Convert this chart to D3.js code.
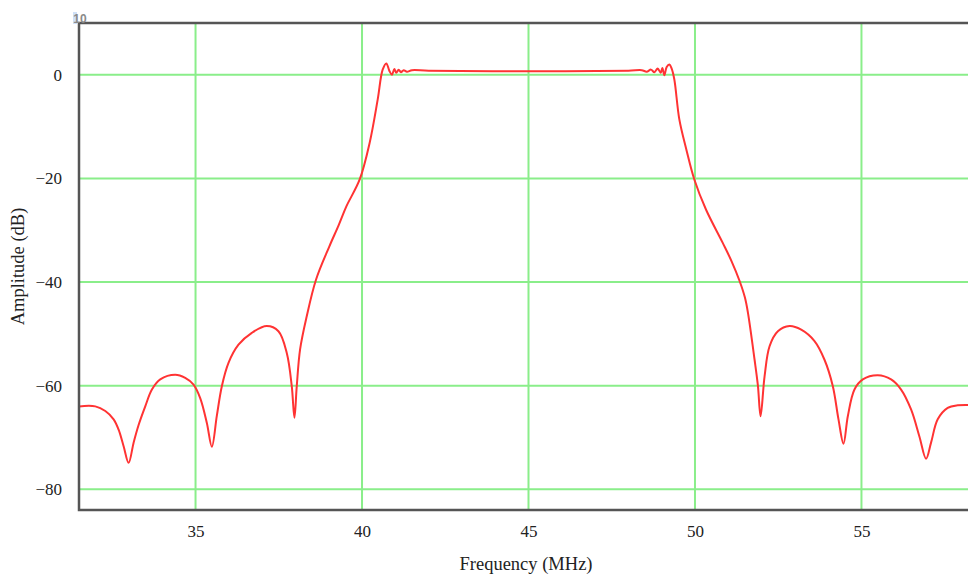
<!DOCTYPE html>
<html>
  <head>
    <meta charset="utf-8"/>
    <script src="https://cdn.jsdelivr.net/npm/d3@7"></script>
    <style>
      body { margin: 0; background: #fff; }
      text { font-family: "Liberation Serif", "Times New Roman", serif; fill: #222; }
      .tick text { font-size: 17px; }
      .title { font-size: 18.5px; }
    </style>
  </head>
  <body>
    <svg id="chart" width="968" height="575"></svg>
    <script>
    // frequency (MHz) and amplitude (dB)
    var freq = [31.5, 31.99, 32.29, 32.54, 32.69, 32.84, 32.99, 33.14, 33.29, 33.49, 33.69, 33.94, 34.39, 34.69, 34.94, 35.14, 35.34, 35.49, 35.64, 35.79, 35.99, 36.29, 36.69, 37.14, 37.49, 37.74, 37.89, 37.97, 38.04, 38.14, 38.34, 38.62, 39.02, 39.3, 39.53, 39.93, 40.23, 40.47, 40.62, 40.73, 40.82, 40.9, 40.97, 41.03, 41.1, 41.17, 41.25, 41.35, 41.5, 42.0, 45.0, 48.0, 48.4, 48.55, 48.68, 48.78, 48.88, 48.97, 49.02, 49.08, 49.15, 49.23, 49.3, 49.38, 49.53, 49.74, 49.98, 50.33, 50.83, 51.1, 51.34, 51.5, 51.59, 51.79, 51.89, 51.97, 52.09, 52.24, 52.49, 52.84, 53.19, 53.59, 53.89, 54.14, 54.31, 54.46, 54.59, 54.79, 55.04, 55.49, 55.89, 56.19, 56.49, 56.74, 56.94, 57.09, 57.29, 57.59, 57.89, 58.5];
    var amp = [-64.0, -64.0, -64.9, -66.5, -68.5, -71.7, -74.9, -71.0, -67.6, -64.0, -60.75, -58.8, -57.9, -58.5, -59.8, -62.4, -67.2, -71.8, -65.8, -60.1, -55.6, -52.1, -49.8, -48.5, -49.5, -53.7, -60.1, -66.2, -60.1, -53.0, -46.6, -39.5, -33.1, -29.0, -25.4, -20.2, -13.1, -4.8, 1.0, 2.2, 0.8, 0.0, 1.1, 0.4, 1.0, 0.5, 0.9, 0.6, 0.9, 0.8, 0.7, 0.8, 0.9, 0.6, 1.0, 0.5, 1.2, 0.4, 1.3, -0.1, 1.5, 2.0, 1.2, -0.9, -8.6, -14.4, -20.2, -26.0, -32.4, -36.0, -39.8, -43.0, -45.9, -55.0, -60.0, -65.9, -58.2, -52.4, -49.5, -48.5, -49.2, -51.4, -55.0, -60.1, -66.5, -71.2, -65.9, -60.75, -58.8, -58.0, -58.8, -60.75, -64.6, -69.8, -74.1, -71.0, -66.5, -64.3, -63.8, -63.8];

    var xTicks = [35, 40, 45, 50, 55];
    var yTicks = [0, -20, -40, -60, -80];
    var xDomain = [31.5, 58.5];
    var yDomain = [-84, 10];

    var plotL = 79, plotT = 23, plotR = 978, plotB = 510;

    var svg = d3.select("#chart");
    var x = d3.scaleLinear().domain(xDomain).range([plotL, plotR]);
    var y = d3.scaleLinear().domain(yDomain).range([plotB, plotT]);

    svg.append("defs").append("clipPath").attr("id", "plot")
        .append("rect")
        .attr("x", plotL).attr("y", plotT)
        .attr("width", plotR - plotL).attr("height", plotB - plotT);

    // grid
    var grid = svg.append("g").attr("clip-path", "url(#plot)");
    grid.selectAll(".vg").data(xTicks).enter().append("line")
        .attr("x1", function(d) { return x(d); })
        .attr("x2", function(d) { return x(d); })
        .attr("y1", plotT).attr("y2", plotB)
        .attr("stroke", "#8aee8a").attr("stroke-width", 2);
    grid.selectAll(".hg").data(yTicks).enter().append("line")
        .attr("x1", plotL).attr("x2", plotR)
        .attr("y1", function(d) { return y(d); })
        .attr("y2", function(d) { return y(d); })
        .attr("stroke", "#8aee8a").attr("stroke-width", 2);

    // curve
    var line = d3.line()
        .x(function(d, i) { return x(freq[i]); })
        .y(function(d, i) { return y(amp[i]); })
        .curve(d3.curveCatmullRom.alpha(0.5));
    svg.append("path")
        .datum(freq)
        .attr("clip-path", "url(#plot)")
        .attr("d", line)
        .attr("fill", "none")
        .attr("stroke", "#ff3333")
        .attr("stroke-width", 2)
        .attr("stroke-linejoin", "round");

    // frame: top, left, bottom
    svg.append("path")
        .attr("d", "M968," + plotT + "H" + plotL + "V" + plotB + "H968")
        .attr("fill", "none")
        .attr("stroke", "#555")
        .attr("stroke-width", 2.5);

    // axes (labels only)
    svg.append("g")
        .attr("transform", "translate(0," + plotB + ")")
        .call(d3.axisBottom(x).tickValues(xTicks).tickSize(0).tickPadding(15));
    svg.append("g")
        .attr("transform", "translate(" + plotL + ",0)")
        .call(d3.axisLeft(y).tickValues(yTicks).tickSize(0).tickPadding(17)
          .tickFormat(function(d) { return d < 0 ? "\u2212" + Math.abs(d) : d; }));
    svg.selectAll(".domain").remove();
    svg.selectAll(".tick text").attr("fill", "#222").style("font-family", "'Liberation Serif', serif");

    // stray "10" label at the top corner
    svg.append("rect").attr("x", 73).attr("y", 12).attr("width", 4).attr("height", 12).attr("fill", "#cfe0f7");
    svg.append("text")
        .attr("x", 80).attr("y", 23)
        .attr("text-anchor", "middle")
        .style("font-family", "'Liberation Sans', sans-serif")
        .style("font-size", "12px")
        .style("font-weight", "bold")
        .style("fill", "#8a8a8a")
        .text("10");

    svg.append("text")
        .attr("class", "title")
        .attr("x", 526).attr("y", 570)
        .attr("text-anchor", "middle")
        .text("Frequency (MHz)");

    svg.append("text")
        .attr("class", "title")
        .attr("transform", "translate(24," + ((plotT + plotB) / 2) + ") rotate(-90)")
        .attr("text-anchor", "middle")
        .text("Amplitude (dB)");
    </script>
  </body>
</html>
